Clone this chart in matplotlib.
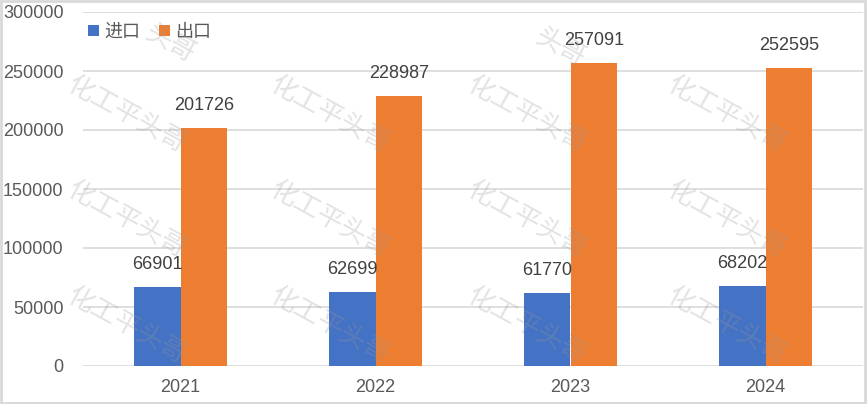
import matplotlib.pyplot as plt
import numpy as np
from matplotlib.patches import Rectangle

plt.rcParams['font.family'] = ['Liberation Sans', 'Noto Sans CJK SC', 'DejaVu Sans']

years = ["2021", "2022", "2023", "2024"]
imports = [66901, 62699, 61770, 68202]
exports = [201726, 228987, 257091, 252595]
series_names = ["进口", "出口"]

blue = "#4472C4"
orange = "#ED7D31"

fig = plt.figure(figsize=(8.67, 4.04), dpi=100)
ax = fig.add_axes([83 / 867, 1 - 366 / 404, 780 / 867, 354 / 404])

x = np.arange(len(years))
w = 0.238
b1 = ax.bar(x - w / 2, imports, w, color=blue, label=series_names[0], zorder=2)
b2 = ax.bar(x + w / 2, exports, w, color=orange, label=series_names[1], zorder=2)

ax.bar_label(b1, padding=10, fontsize=13, color="#404040")
ax.bar_label(b2, padding=10, fontsize=13, color="#404040")

ax.set_xlim(-0.5, len(years) - 0.5)
ax.set_ylim(0, 300000)
ax.set_yticks(range(0, 300001, 50000))
ax.set_xticks(x)
ax.set_xticklabels(years)
ax.grid(axis="y", color="#d9d9d9", linewidth=1.2, zorder=0)
for s in ax.spines.values():
    s.set_visible(False)
ax.tick_params(axis="both", length=0, labelsize=13, labelcolor="#595959")
ax.tick_params(axis="y", pad=14)
ax.tick_params(axis="x", pad=9)

leg = ax.legend(loc="upper left", bbox_to_anchor=(-0.007, 0.997), ncol=2, frameon=False,
                fontsize=13, handlelength=0.6, handleheight=0.6, handletextpad=0.3,
                columnspacing=1.0, borderaxespad=0.2)
for t in leg.get_texts():
    t.set_color("#595959")

# watermark
wm_x = [127, 330, 527, 727]
wm_y = [115, 220, 326]
for yy in wm_y:
    for xx in wm_x:
        fig.text(xx / 867, 1 - yy / 404, "化工平头哥", fontsize=19, rotation=-29,
                 color="#999999", alpha=0.28, ha="center", va="center",
                 family=["Noto Sans CJK SC"], zorder=5)
# cropped pieces at the top edge
for xx, yy in [(170, 43), (560, 47)]:
    fig.text(xx / 867, 1 - yy / 404, "头哥", fontsize=19, rotation=-29,
             color="#999999", alpha=0.28, ha="center", va="center",
             family=["Noto Sans CJK SC"], zorder=5)

fig.patches.append(Rectangle((0.001, 0.002), 0.997, 0.995, transform=fig.transFigure,
                             fill=False, edgecolor="#d9d9d9", linewidth=2))

fig.savefig("out.png", dpi=100)
